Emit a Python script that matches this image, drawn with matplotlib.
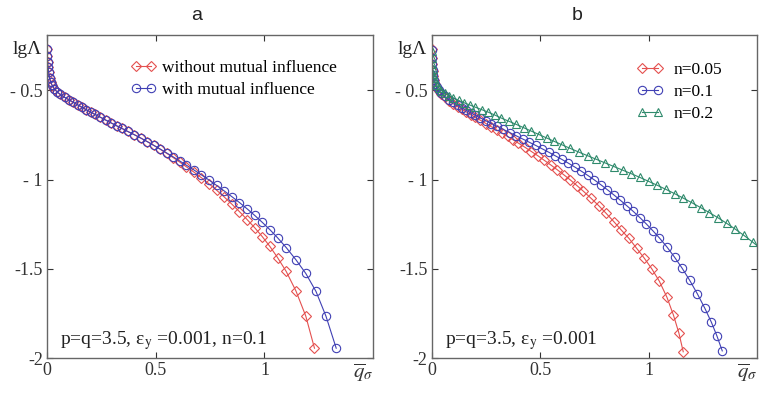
import matplotlib
matplotlib.use("Agg")
import matplotlib.pyplot as plt

plt.rcParams['font.family'] = ['Liberation Serif', 'DejaVu Serif']
plt.rcParams['mathtext.fontset'] = 'stix'

# ---- panel a: without / with mutual influence ----
a_x_without = [0.000, 0.001, 0.002, 0.004, 0.007, 0.011, 0.016, 0.023, 0.032, 0.045,
               0.060, 0.080, 0.100, 0.120, 0.140, 0.160, 0.180, 0.200, 0.220, 0.245,
               0.270, 0.295, 0.320, 0.345, 0.370, 0.400, 0.430, 0.460, 0.490, 0.520,
               0.550, 0.580, 0.610, 0.640, 0.675, 0.710, 0.745, 0.780, 0.815, 0.850,
               0.885, 0.920, 0.955, 0.990, 1.025, 1.060, 1.100, 1.145, 1.190, 1.230]
a_y_without = [-0.270, -0.310, -0.340, -0.370, -0.400, -0.430, -0.452, -0.472, -0.490, -0.508,
               -0.523, -0.539, -0.553, -0.567, -0.581, -0.595, -0.609, -0.622, -0.635, -0.651,
               -0.667, -0.683, -0.699, -0.714, -0.730, -0.748, -0.767, -0.787, -0.808, -0.830,
               -0.853, -0.877, -0.902, -0.928, -0.958, -0.990, -1.024, -1.060, -1.098, -1.138,
               -1.180, -1.224, -1.270, -1.320, -1.375, -1.437, -1.515, -1.625, -1.765, -1.945]

a_x_with = [0.000, 0.001, 0.002, 0.004, 0.007, 0.011, 0.016, 0.023, 0.032, 0.045,
            0.060, 0.080, 0.100, 0.120, 0.140, 0.160, 0.180, 0.200, 0.220, 0.245,
            0.270, 0.295, 0.320, 0.345, 0.370, 0.400, 0.430, 0.460, 0.490, 0.520,
            0.550, 0.580, 0.610, 0.640, 0.675, 0.710, 0.745, 0.780, 0.815, 0.850,
            0.885, 0.920, 0.955, 0.990, 1.025, 1.060, 1.100, 1.145, 1.190, 1.237,
            1.283, 1.330]
a_y_with = [-0.270, -0.310, -0.340, -0.370, -0.400, -0.430, -0.452, -0.472, -0.490, -0.508,
            -0.523, -0.539, -0.553, -0.567, -0.581, -0.595, -0.609, -0.622, -0.635, -0.651,
            -0.667, -0.683, -0.699, -0.714, -0.730, -0.748, -0.767, -0.787, -0.808, -0.829,
            -0.851, -0.873, -0.896, -0.919, -0.946, -0.974, -1.003, -1.033, -1.064, -1.096,
            -1.129, -1.164, -1.201, -1.240, -1.281, -1.326, -1.381, -1.450, -1.526, -1.627,
            -1.766, -1.945]

# ---- panel b: n = 0.05, 0.1, 0.2 ----
b_x_n005 = [0.000, 0.001, 0.002, 0.004, 0.007, 0.011, 0.016, 0.023, 0.032, 0.045,
            0.060, 0.080, 0.100, 0.120, 0.140, 0.160, 0.180, 0.200, 0.225, 0.250,
            0.275, 0.300, 0.325, 0.350, 0.375, 0.400, 0.430, 0.460, 0.490, 0.520,
            0.550, 0.580, 0.610, 0.640, 0.670, 0.700, 0.735, 0.770, 0.805, 0.840,
            0.875, 0.910, 0.945, 0.980, 1.015, 1.050, 1.085, 1.115, 1.140, 1.160]
b_y_n005 = [-0.270, -0.320, -0.355, -0.390, -0.420, -0.445, -0.467, -0.487, -0.505, -0.523,
            -0.540, -0.558, -0.575, -0.591, -0.606, -0.621, -0.636, -0.651, -0.668, -0.686,
            -0.704, -0.722, -0.740, -0.758, -0.777, -0.796, -0.819, -0.843, -0.867, -0.893,
            -0.919, -0.946, -0.974, -1.003, -1.034, -1.066, -1.105, -1.146, -1.190, -1.236,
            -1.284, -1.330, -1.385, -1.440, -1.500, -1.570, -1.660, -1.760, -1.860, -1.965]

b_x_n01 = [0.000, 0.001, 0.002, 0.004, 0.007, 0.011, 0.016, 0.023, 0.032, 0.045,
           0.060, 0.080, 0.100, 0.120, 0.140, 0.160, 0.180, 0.200, 0.225, 0.250,
           0.275, 0.300, 0.330, 0.360, 0.390, 0.420, 0.450, 0.480, 0.510, 0.540,
           0.570, 0.600, 0.630, 0.660, 0.690, 0.720, 0.750, 0.780, 0.810, 0.840,
           0.870, 0.900, 0.930, 0.960, 0.990, 1.020, 1.050, 1.085, 1.120, 1.155,
           1.190, 1.225, 1.260, 1.290, 1.315, 1.340]
b_y_n01 = [-0.275, -0.320, -0.352, -0.385, -0.415, -0.440, -0.462, -0.481, -0.499, -0.517,
           -0.534, -0.552, -0.568, -0.583, -0.598, -0.612, -0.626, -0.639, -0.655, -0.671,
           -0.686, -0.701, -0.719, -0.737, -0.755, -0.773, -0.791, -0.809, -0.828, -0.847,
           -0.867, -0.887, -0.908, -0.930, -0.953, -0.977, -1.002, -1.029, -1.057, -1.086,
           -1.116, -1.147, -1.179, -1.213, -1.249, -1.287, -1.327, -1.378, -1.435, -1.497,
           -1.565, -1.640, -1.722, -1.800, -1.875, -1.960]

b_x_n02 = [0.000, 0.001, 0.002, 0.004, 0.007, 0.011, 0.016, 0.023, 0.032, 0.045,
           0.060, 0.080, 0.100, 0.125, 0.150, 0.175, 0.200, 0.230, 0.260, 0.290,
           0.320, 0.355, 0.390, 0.425, 0.460, 0.495, 0.530, 0.565, 0.600, 0.640,
           0.680, 0.720, 0.760, 0.800, 0.840, 0.880, 0.920, 0.960, 1.000, 1.040,
           1.080, 1.120, 1.160, 1.200, 1.240, 1.280, 1.320, 1.360, 1.400, 1.440,
           1.480, 1.520]
b_y_n02 = [-0.280, -0.320, -0.350, -0.380, -0.408, -0.432, -0.452, -0.470, -0.486, -0.502,
           -0.516, -0.530, -0.543, -0.557, -0.570, -0.582, -0.594, -0.608, -0.622, -0.638,
           -0.655, -0.673, -0.691, -0.710, -0.729, -0.748, -0.767, -0.786, -0.805, -0.826,
           -0.847, -0.867, -0.887, -0.907, -0.927, -0.947, -0.967, -0.988, -1.010, -1.032,
           -1.055, -1.079, -1.104, -1.130, -1.157, -1.185, -1.214, -1.245, -1.278, -1.313,
           -1.350, -1.390]

x_ticks = [0, 0.5, 1]
x_tick_labels = ['0', '0.5', '1']
y_ticks = [-0.5, -1, -1.5, -2]
y_tick_labels = ['- 0.5', '- 1', '-1.5', '-2']

RED = '#e4504f'
BLUE = '#4040b4'
GREEN = '#2f8a6c'


def style_axes(ax, note):
    ax.set_xlim(0, 1.5)
    ax.set_ylim(-2, -0.19)
    ax.set_xticks(x_ticks)
    ax.set_xticklabels(x_tick_labels)
    ax.set_yticks(y_ticks)
    ax.set_yticklabels(y_tick_labels)
    ax.tick_params(direction='in', length=4, width=0.8, top=True, right=True,
                   labelsize=13, colors='#333333', pad=3)
    for s in ax.spines.values():
        s.set_color('#666666')
        s.set_linewidth(1.0)
    ax.text(-0.015, 0.955, 'lgΛ', transform=ax.transAxes,
            ha='right', va='center', fontsize=14, color='#222222')
    ax.text(0.97, -0.012, r'$\overline{q}_{\sigma}$', transform=ax.transAxes,
            ha='center', va='top', fontsize=15, color='#333333')
    ax.text(0.04, 0.055, note, transform=ax.transAxes,
            ha='left', va='center', fontsize=14, color='#222222')


fig = plt.figure(figsize=(7.6, 3.93), dpi=100)
ax1 = fig.add_axes([0.062, 0.089, 0.429, 0.822])
ax2 = fig.add_axes([0.568, 0.089, 0.428, 0.822])

mk = dict(markerfacecolor='none', linewidth=0.8, markeredgewidth=0.8)

ax1.plot(a_x_without, a_y_without, color=RED, marker='D', markersize=4.8,
         label='without mutual influence', **mk)
ax1.plot(a_x_with, a_y_with, color=BLUE, marker='o', markersize=6,
         label='with mutual influence', **mk)
style_axes(ax1, r'p=q=3.5, ε$_{\mathrm{y}}$ =0.001, n=0.1')
ax1.legend(loc='upper right', bbox_to_anchor=(0.92, 0.955), frameon=False,
           numpoints=2, handlelength=1.5, handletextpad=0.3, labelspacing=0.35,
           borderaxespad=0.2, fontsize=12.5)

ax2.plot(b_x_n005, b_y_n005, color=RED, marker='D', markersize=4.8,
         label='n=0.05', **mk)
ax2.plot(b_x_n01, b_y_n01, color=BLUE, marker='o', markersize=6,
         label='n=0.1', **mk)
ax2.plot(b_x_n02, b_y_n02, color=GREEN, marker='^', markersize=6,
         label='n=0.2', **mk)
style_axes(ax2, r'p=q=3.5, ε$_{\mathrm{y}}$ =0.001')
ax2.legend(loc='upper left', bbox_to_anchor=(0.6, 0.95), frameon=False,
           numpoints=2, handlelength=1.5, handletextpad=0.6, labelspacing=0.35,
           borderaxespad=0.2, fontsize=12.5)

fig.text(197 / 760, 1 - 15 / 393, 'a', ha='center', va='center',
         fontsize=14, family='Liberation Sans', color='#222222')
fig.text(577 / 760, 1 - 15 / 393, 'b', ha='center', va='center',
         fontsize=14, family='Liberation Sans', color='#222222')

fig.savefig('out.png', dpi=100)
